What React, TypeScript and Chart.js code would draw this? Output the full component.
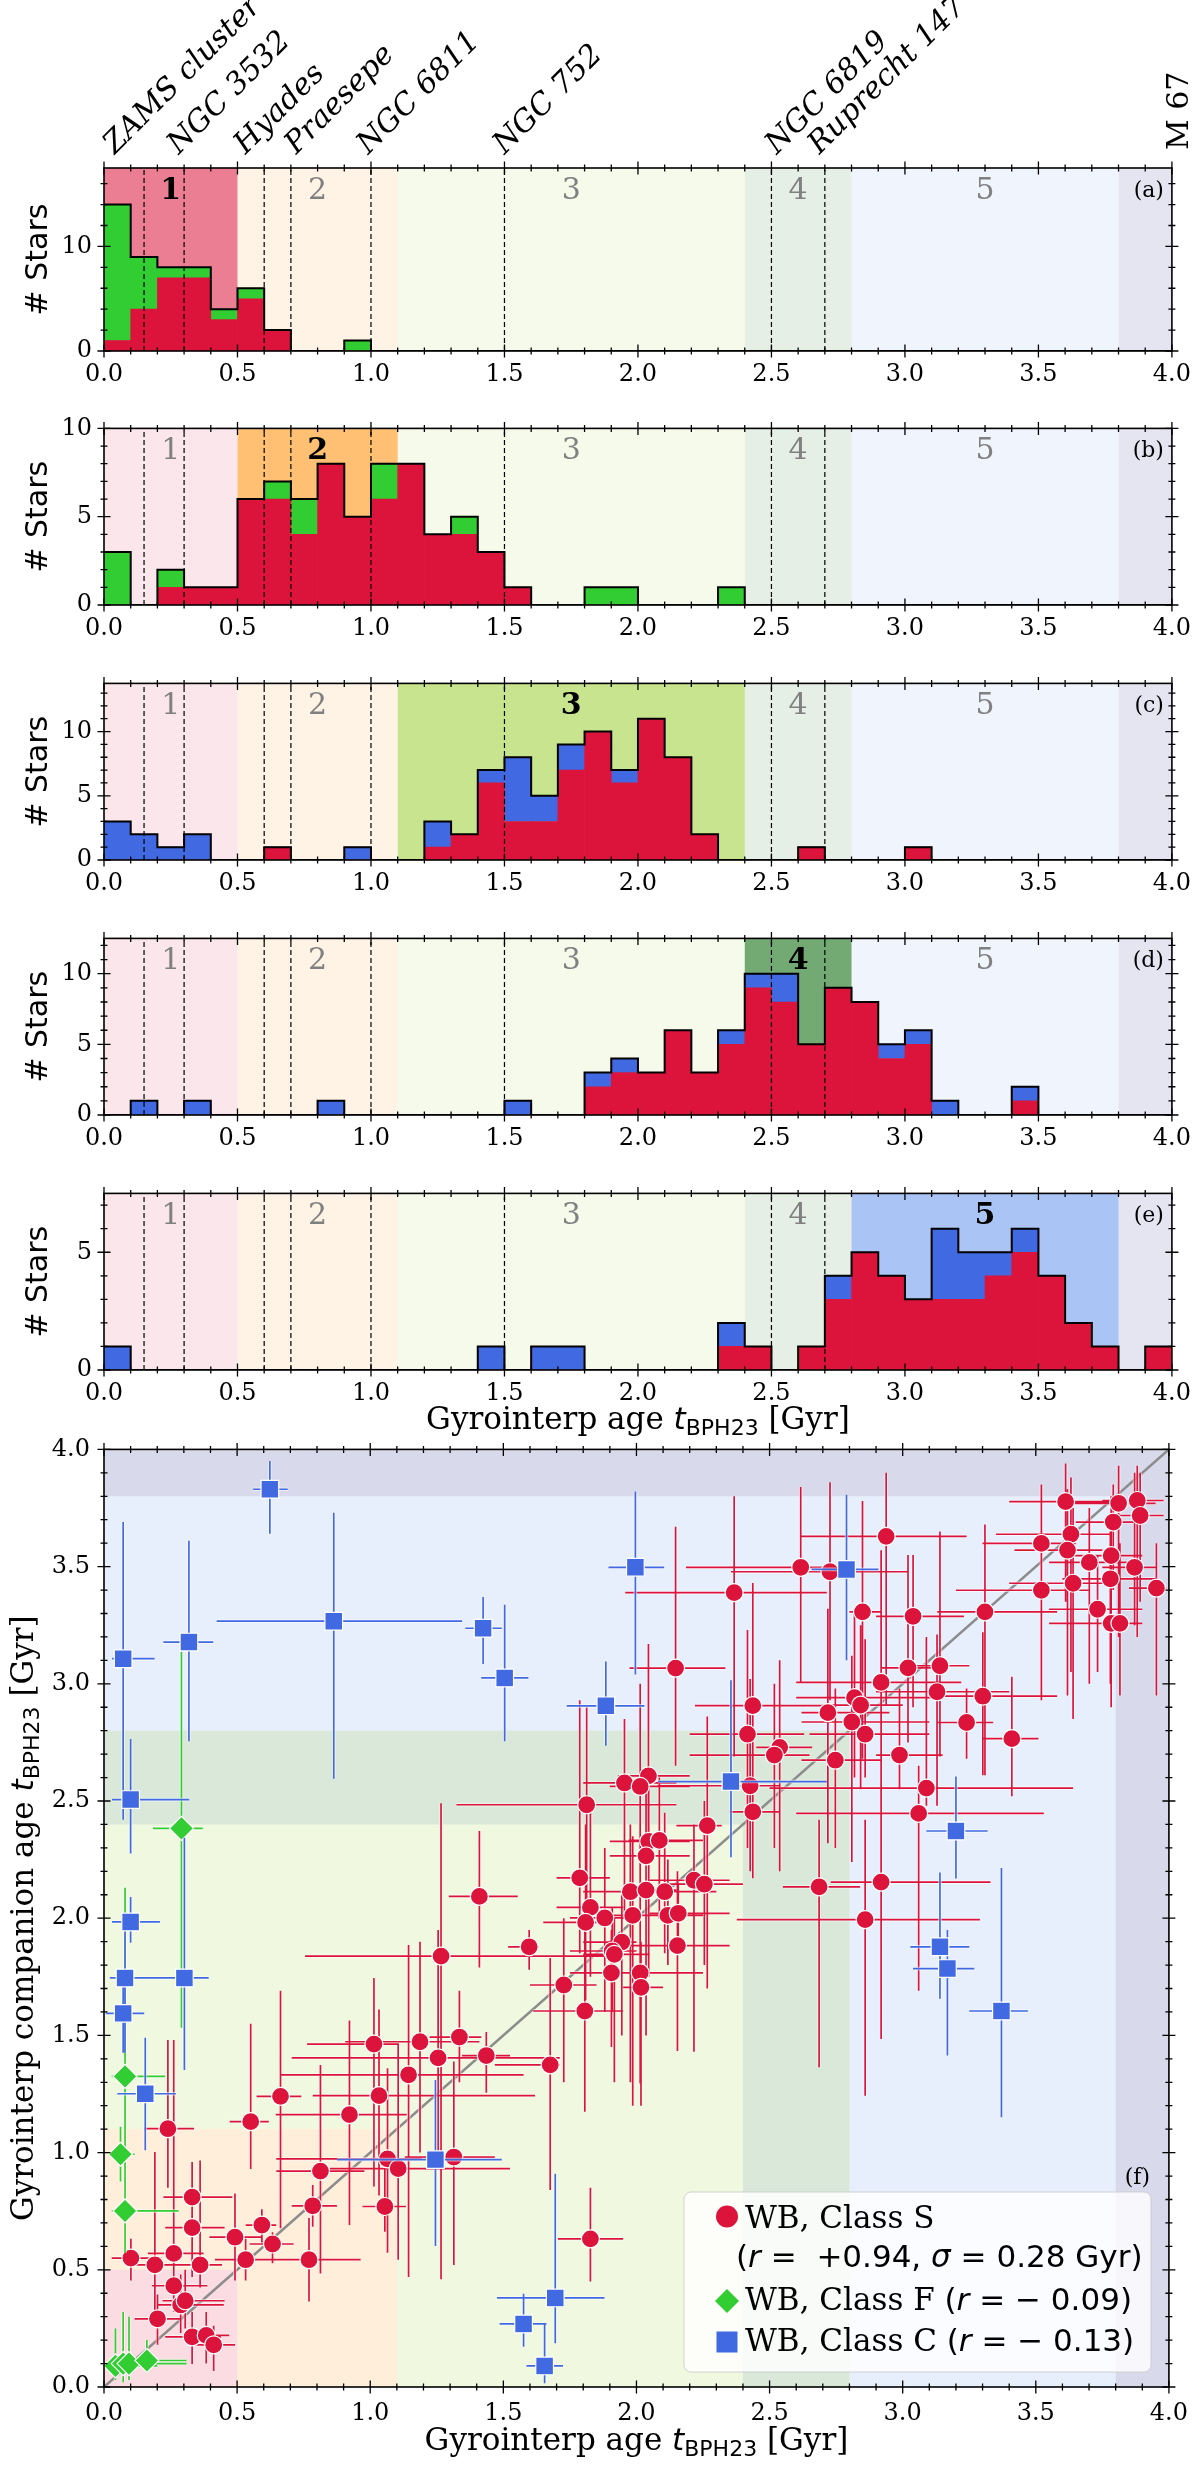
import { useEffect, useRef } from "react";
import { Chart, registerables } from "chart.js";

Chart.register(...registerables);

const SERIF = '"DejaVu Serif", serif';
const SANS = '"DejaVu Sans", sans-serif';
const CRIMSON = "#dc143c";
const LIME = "#32cd32";
const ROYAL = "#4169e1";

// histogram bins: 0.1 Gyr wide, 0 .. 4 Gyr
const binEdges = Array.from({ length: 41 }, (_, i) => Math.round(i * 10) / 100);
const binCenters = binEdges.slice(0, 40).map((e) => e + 0.05);

// age regions 1..5 plus the M 67 strip
const regionEdges = [0, 0.5, 1.1, 2.4, 2.8, 3.8, 4.0];
const regionNames = ["1", "2", "3", "4", "5"];
const regionRgb = ["220,20,60", "255,140,0", "154,205,50", "0,100,0", "100,149,237", "0,0,128"];

// benchmark clusters
const clusterNames = ["ZAMS cluster", "NGC 3532", "Hyades", "Praesepe", "NGC 6811", "NGC 752", "NGC 6819", "Ruprecht 147"];
const clusterLabelAt = [0.04, 0.28, 0.53, 0.72, 0.99, 1.5, 2.52, 2.68];
const clusterAges = [0.15, 0.3, 0.6, 0.7, 1.0, 1.5, 2.5, 2.7];

// counts per bin (class S, and class F or C stacked on top)
const histA_S = [1, 4, 7, 7, 3, 5, 2, 0, 0, 0, 0, 0, 0, 0, 0, 0, 0, 0, 0, 0, 0, 0, 0, 0, 0, 0, 0, 0, 0, 0, 0, 0, 0, 0, 0, 0, 0, 0, 0, 0];
const histA_F = [13, 5, 1, 1, 1, 1, 0, 0, 0, 1, 0, 0, 0, 0, 0, 0, 0, 0, 0, 0, 0, 0, 0, 0, 0, 0, 0, 0, 0, 0, 0, 0, 0, 0, 0, 0, 0, 0, 0, 0];
const histB_S = [0, 0, 1, 1, 1, 6, 6, 4, 8, 5, 6, 8, 4, 4, 3, 1, 0, 0, 0, 0, 0, 0, 0, 0, 0, 0, 0, 0, 0, 0, 0, 0, 0, 0, 0, 0, 0, 0, 0, 0];
const histB_F = [3, 0, 1, 0, 0, 0, 1, 2, 0, 0, 2, 0, 0, 1, 0, 0, 0, 0, 1, 1, 0, 0, 0, 1, 0, 0, 0, 0, 0, 0, 0, 0, 0, 0, 0, 0, 0, 0, 0, 0];
const histC_S = [0, 0, 0, 0, 0, 0, 1, 0, 0, 0, 0, 0, 1, 2, 6, 3, 3, 7, 10, 6, 11, 8, 2, 0, 0, 0, 1, 0, 0, 0, 1, 0, 0, 0, 0, 0, 0, 0, 0, 0];
const histC_C = [3, 2, 1, 2, 0, 0, 0, 0, 0, 1, 0, 0, 2, 0, 1, 5, 2, 2, 0, 1, 0, 0, 0, 0, 0, 0, 0, 0, 0, 0, 0, 0, 0, 0, 0, 0, 0, 0, 0, 0];
const histD_S = [0, 0, 0, 0, 0, 0, 0, 0, 0, 0, 0, 0, 0, 0, 0, 0, 0, 0, 2, 3, 3, 6, 3, 5, 9, 8, 5, 9, 8, 4, 5, 0, 0, 0, 1, 0, 0, 0, 0, 0];
const histD_C = [0, 1, 0, 1, 0, 0, 0, 0, 1, 0, 0, 0, 0, 0, 0, 1, 0, 0, 1, 1, 0, 0, 0, 1, 1, 2, 0, 0, 0, 1, 1, 1, 0, 0, 1, 0, 0, 0, 0, 0];
const histE_S = [0, 0, 0, 0, 0, 0, 0, 0, 0, 0, 0, 0, 0, 0, 0, 0, 0, 0, 0, 0, 0, 0, 0, 1, 1, 0, 1, 3, 5, 4, 3, 3, 3, 4, 5, 4, 2, 1, 0, 1];
const histE_C = [1, 0, 0, 0, 0, 0, 0, 0, 0, 0, 0, 0, 0, 0, 1, 0, 1, 1, 0, 0, 0, 0, 0, 1, 0, 0, 0, 1, 0, 0, 0, 3, 2, 1, 1, 0, 0, 0, 0, 0];

// [age, companion age, age lo, age hi, companion lo, companion hi] in Gyr
type Pt = [number, number, number, number, number, number];
const classS: Pt[] = [
  [0.24, 1.102, 0.151, 0.338, 0.85, 1.48], [0.551, 1.132, 0.472, 0.619, 0.93, 1.55],
  [0.663, 1.24, 0.573, 0.741, 0.677, 1.69], [0.331, 0.81, 0.223, 0.482, 0.617, 0.96],
  [0.331, 0.68, 0.23, 0.453, 0.469, 0.884], [0.492, 0.639, 0.396, 0.59, 0.454, 0.825],
  [0.593, 0.691, 0.532, 0.647, 0.617, 0.758], [0.633, 0.61, 0.547, 0.712, 0.528, 0.66],
  [0.532, 0.543, 0.417, 0.633, 0.454, 0.632], [0.77, 0.543, 0.568, 0.964, 0.365, 0.721],
  [0.784, 0.773, 0.705, 0.875, 0.684, 0.862], [0.813, 0.921, 0.647, 0.978, 0.484, 1.374],
  [0.922, 1.162, 0.645, 1.137, 0.691, 1.564], [1.014, 1.463, 0.763, 1.108, 0.855, 1.745],
  [1.033, 1.243, 0.784, 1.619, 0.817, 1.61], [1.065, 0.973, 0.647, 1.194, 0.573, 1.36],
  [1.105, 0.932, 0.849, 1.525, 0.543, 1.46], [1.055, 0.77, 0.971, 1.134, 0.662, 0.973],
  [1.314, 0.981, 1.13, 1.468, 0.521, 1.389], [1.144, 1.332, 0.662, 1.576, 0.469, 1.886],
  [1.187, 1.473, 0.906, 1.41, 1.0, 1.9], [1.255, 1.404, 0.705, 1.712, 0.95, 1.95],
  [1.335, 1.493, 1.223, 1.417, 1.3, 1.69], [1.436, 1.414, 1.345, 1.525, 1.255, 1.515],
  [1.676, 1.374, 1.468, 1.712, 0.84, 1.83], [1.806, 1.604, 1.612, 1.95, 1.174, 1.95],
  [1.727, 1.715, 1.6, 1.85, 1.3, 2.0], [1.266, 1.838, 0.755, 1.95, 0.46, 2.49],
  [1.597, 1.878, 1.518, 1.633, 1.78, 1.95], [1.827, 0.632, 1.705, 1.95, 0.45, 0.85],
  [0.101, 0.55, 0.029, 0.216, 0.454, 0.632], [0.191, 0.521, 0.122, 0.338, 0.32, 1.003],
  [0.262, 0.57, 0.165, 0.374, 0.38, 1.48], [0.361, 0.521, 0.295, 0.443, 0.424, 0.966],
  [0.262, 0.432, 0.18, 0.388, 0.32, 0.558], [0.288, 0.35, 0.2, 0.45, 0.23, 0.48],
  [0.305, 0.368, 0.22, 0.453, 0.25, 0.5], [0.201, 0.291, 0.115, 0.288, 0.18, 0.395],
  [0.331, 0.214, 0.23, 0.439, 0.098, 0.32], [0.384, 0.22, 0.3, 0.47, 0.1, 0.32],
  [0.412, 0.18, 0.331, 0.492, 0.068, 0.261], [1.41, 2.093, 1.295, 1.554, 1.79, 2.372],
  [1.813, 2.484, 1.324, 2.15, 2.0, 2.9], [1.787, 2.172, 1.7, 1.9, 1.85, 2.93],
  [1.827, 2.046, 1.7, 1.95, 1.75, 2.5], [1.809, 1.982, 1.65, 1.9, 1.65, 2.4],
  [3.612, 3.777, 3.4, 3.85, 3.35, 3.94], [3.811, 3.77, 3.6, 3.95, 3.2, 3.93],
  [3.881, 3.782, 3.75, 3.98, 3.2, 3.93], [3.892, 3.718, 3.78, 3.98, 3.35, 3.9],
  [3.791, 3.69, 3.65, 3.9, 3.4, 3.85], [2.938, 3.629, 2.617, 3.24, 2.91, 3.9],
  [3.632, 3.638, 3.35, 3.78, 3.05, 3.88], [3.521, 3.599, 3.3, 3.65, 3.2, 3.85],
  [3.619, 3.57, 3.42, 3.75, 2.95, 3.83], [3.701, 3.518, 3.55, 3.85, 3.0, 3.75],
  [3.783, 3.547, 3.6, 3.9, 3.2, 3.8], [3.871, 3.497, 3.75, 3.95, 3.25, 3.9],
  [2.617, 3.497, 2.186, 2.75, 3.01, 3.84], [2.727, 3.478, 2.355, 3.02, 2.93, 3.86],
  [2.367, 3.389, 1.958, 2.715, 2.69, 3.8], [3.521, 3.399, 3.2, 3.7, 2.93, 3.72],
  [3.64, 3.429, 3.4, 3.8, 2.85, 3.75], [3.78, 3.448, 3.6, 3.95, 3.0, 3.65],
  [3.953, 3.408, 3.85, 3.99, 2.95, 3.6], [2.849, 3.307, 2.8, 2.92, 2.68, 3.78],
  [3.039, 3.288, 2.9, 3.23, 2.9, 3.55], [3.309, 3.307, 3.13, 3.58, 2.61, 3.68],
  [3.732, 3.318, 3.55, 3.9, 3.05, 3.55], [3.783, 3.258, 3.55, 3.85, 2.9, 3.65],
  [3.816, 3.258, 3.65, 3.9, 2.95, 3.6], [2.147, 3.067, 1.974, 2.334, 2.65, 3.67],
  [3.02, 3.068, 2.92, 3.15, 2.75, 3.55], [3.14, 3.077, 3.05, 3.25, 2.69, 3.65],
  [2.919, 3.006, 2.6, 3.22, 2.19, 3.57], [3.129, 2.966, 2.9, 3.4, 2.48, 3.21],
  [3.301, 2.947, 3.13, 3.58, 2.61, 3.22], [2.437, 2.907, 2.22, 2.7, 2.17, 3.43],
  [2.819, 2.941, 2.6, 3.12, 2.6, 3.3], [2.842, 2.909, 2.7, 3.0, 2.55, 3.25],
  [2.719, 2.877, 2.62, 2.95, 2.32, 3.32], [2.809, 2.837, 2.62, 3.1, 2.24, 3.12],
  [3.24, 2.835, 3.13, 3.34, 2.68, 2.98], [2.417, 2.785, 2.2, 2.63, 2.3, 3.23],
  [2.859, 2.785, 2.65, 3.1, 2.6, 3.19], [3.41, 2.766, 3.3, 3.51, 2.52, 3.03],
  [2.538, 2.729, 2.45, 2.66, 2.2, 3.1], [2.518, 2.696, 2.2, 2.65, 2.3, 3.0],
  [2.747, 2.674, 2.62, 2.92, 2.3, 2.98], [2.988, 2.696, 2.9, 3.15, 2.55, 2.98],
  [2.045, 2.607, 1.93, 2.2, 2.33, 3.17], [1.955, 2.577, 1.8, 2.15, 2.0, 2.85],
  [2.014, 2.562, 1.9, 2.2, 1.8, 3.0], [2.427, 2.565, 2.08, 2.54, 2.2, 3.02],
  [3.089, 2.555, 2.5, 3.64, 2.48, 3.2], [2.437, 2.454, 2.35, 2.54, 2.2, 2.71],
  [3.06, 2.447, 2.6, 3.53, 1.69, 2.65], [2.266, 2.395, 2.15, 2.32, 1.7, 2.86],
  [2.046, 2.328, 1.9, 2.2, 1.75, 2.55], [2.086, 2.332, 1.97, 2.25, 2.0, 2.6],
  [2.036, 2.266, 1.9, 2.2, 1.5, 2.6], [2.216, 2.162, 2.05, 2.35, 1.43, 2.4],
  [2.255, 2.145, 2.1, 2.4, 1.8, 2.5], [1.977, 2.113, 1.8, 2.1, 1.3, 2.4],
  [2.036, 2.12, 1.95, 2.15, 1.55, 2.6], [2.106, 2.113, 2.0, 2.3, 1.85, 2.45],
  [2.686, 2.134, 2.55, 2.84, 1.364, 2.42], [2.919, 2.154, 2.73, 3.33, 1.485, 2.44],
  [1.881, 2.001, 1.75, 1.98, 1.6, 2.3], [1.986, 2.012, 1.85, 2.2, 1.2, 2.35],
  [2.118, 2.012, 2.0, 2.25, 1.8, 2.25], [2.157, 2.021, 2.05, 2.35, 1.85, 2.15],
  [2.859, 1.994, 2.377, 3.29, 1.243, 2.42], [1.945, 1.898, 1.8, 2.0, 1.5, 2.1],
  [1.909, 1.86, 1.75, 2.0, 1.6, 2.05], [2.154, 1.883, 1.95, 2.35, 1.433, 2.2],
  [1.917, 1.846, 1.8, 2.05, 1.3, 2.0], [1.906, 1.767, 1.75, 2.05, 1.45, 1.95],
  [2.014, 1.767, 1.9, 2.25, 1.295, 2.05], [2.017, 1.705, 1.95, 2.1, 1.2, 1.9],
];
const classF: Pt[] = [
  [0.291, 2.383, 0.184, 0.371, 1.533, 3.136], [0.079, 1.325, 0.029, 0.23, 0.9, 2.13],
  [0.062, 0.993, 0.03, 0.115, 0.877, 1.11], [0.079, 0.751, 0.029, 0.28, 0.573, 1.6],
  [0.043, 0.09, 0.02, 0.2, 0.03, 0.25], [0.072, 0.1, 0.03, 0.31, 0.02, 0.32],
  [0.094, 0.1, 0.04, 0.25, 0.03, 0.3], [0.161, 0.113, 0.1, 0.31, 0.06, 0.2],
];
const classC: Pt[] = [
  [0.072, 3.107, 0.03, 0.19, 2.42, 3.69], [0.623, 3.83, 0.56, 0.69, 3.64, 3.95],
  [0.319, 3.178, 0.223, 0.41, 2.755, 3.61], [0.863, 3.267, 0.423, 1.345, 2.595, 3.73],
  [1.424, 3.237, 1.357, 1.494, 3.085, 3.37], [1.505, 3.025, 1.417, 1.594, 2.755, 3.337],
  [1.885, 2.906, 1.738, 2.03, 2.736, 3.095], [0.1, 2.506, 0.03, 0.32, 2.276, 2.765],
  [0.1, 1.984, 0.03, 0.21, 1.895, 2.09], [1.996, 3.497, 1.895, 2.104, 3.04, 3.82],
  [2.789, 3.488, 2.658, 2.909, 3.1, 3.807], [2.355, 2.583, 2.082, 2.715, 2.26, 3.015],
  [3.2, 2.372, 3.089, 3.319, 2.169, 2.605], [3.14, 1.878, 3.029, 3.25, 1.656, 2.195],
  [3.168, 1.785, 3.039, 3.269, 1.414, 1.95], [3.371, 1.604, 3.25, 3.47, 1.151, 2.214],
  [0.302, 1.745, 0.216, 0.393, 1.352, 2.343], [0.079, 1.745, 0.022, 0.216, 1.426, 1.97],
  [0.072, 1.594, 0.007, 0.151, 1.426, 1.75], [0.155, 1.251, 0.05, 0.27, 1.01, 1.49],
  [1.245, 0.97, 0.875, 1.494, 0.602, 1.31], [1.576, 0.269, 1.486, 1.662, 0.172, 0.398],
  [1.695, 0.38, 1.476, 1.88, 0.187, 0.91], [1.655, 0.09, 1.587, 1.724, 0.016, 0.269],
];

type Panel = {
  tag: string; s: number[]; other: number[]; otherColor: string;
  yMax: number; yMajor: number; yMinor: number; highlight: number; top: number;
};
const panels: Panel[] = [
  { tag: "(a)", s: histA_S, other: histA_F, otherColor: LIME, yMax: 17.5, yMajor: 10, yMinor: 2, highlight: 0, top: 168 },
  { tag: "(b)", s: histB_S, other: histB_F, otherColor: LIME, yMax: 10, yMajor: 5, yMinor: 1, highlight: 1, top: 422 },
  { tag: "(c)", s: histC_S, other: histC_C, otherColor: ROYAL, yMax: 13.75, yMajor: 5, yMinor: 1, highlight: 2, top: 677 },
  { tag: "(d)", s: histD_S, other: histD_C, otherColor: ROYAL, yMax: 12.5, yMajor: 5, yMinor: 1, highlight: 3, top: 932 },
  { tag: "(e)", s: histE_S, other: histE_C, otherColor: ROYAL, yMax: 7.5, yMajor: 5, yMinor: 1, highlight: 4, top: 1187 },
];
const PANEL_H = 183;

type Seg = { t: string; f: string; dy?: number };
function drawSegs(ctx: CanvasRenderingContext2D, segs: Seg[], x: number, y: number, align: "left" | "center") {
  ctx.textAlign = "left";
  ctx.textBaseline = "alphabetic";
  let w = 0;
  for (const s of segs) { ctx.font = s.f; w += ctx.measureText(s.t).width; }
  let cx = align === "center" ? x - w / 2 : x;
  for (const s of segs) {
    ctx.font = s.f;
    ctx.fillText(s.t, cx, y + (s.dy || 0));
    cx += ctx.measureText(s.t).width;
  }
}

const ageLabel = (): Seg[] => [
  { t: "Gyrointerp age ", f: `31px ${SERIF}` },
  { t: "t", f: `oblique 31px ${SANS}` },
  { t: "BPH23", f: `22px ${SANS}`, dy: 6 },
  { t: " [Gyr]", f: `31px ${SERIF}` },
];

function drawFrame(chart: any, xMinor: number, xMajorEvery: number, yMax: number, yMinor: number, yMajor: number) {
  const { ctx, chartArea: a, scales } = chart;
  const xs = scales.x, ys = scales.y;
  ctx.save();
  ctx.strokeStyle = "#000";
  ctx.lineWidth = 1.3;
  ctx.beginPath();
  for (let i = 0; i * xMinor <= 4 + 1e-9; i++) {
    const px = xs.getPixelForValue(i * xMinor);
    const len = i % xMajorEvery === 0 ? 6.5 : 3.5;
    ctx.moveTo(px, a.bottom - len); ctx.lineTo(px, a.bottom + len);
    ctx.moveTo(px, a.top - len); ctx.lineTo(px, a.top + len);
  }
  for (let i = 0; i * yMinor <= yMax + 1e-9; i++) {
    const v = i * yMinor;
    const py = ys.getPixelForValue(v);
    const major = Math.abs(v / yMajor - Math.round(v / yMajor)) < 1e-6;
    const len = major ? 6.5 : 3.5;
    ctx.moveTo(a.left - len, py); ctx.lineTo(a.left + len, py);
    ctx.moveTo(a.right - len, py); ctx.lineTo(a.right + len, py);
  }
  ctx.stroke();
  ctx.lineWidth = 1.6;
  ctx.strokeRect(a.left, a.top, a.right - a.left, a.bottom - a.top);
  ctx.restore();
}

function HistPanel({ p, first, last }: { p: Panel; first: boolean; last: boolean }) {
  const ref = useRef<HTMLCanvasElement>(null);
  const padTop = first ? p.top : 20;
  const axisH = last ? 80 : 40;
  const height = padTop + PANEL_H + axisH;

  useEffect(() => {
    if (!ref.current) return;
    const totals = p.s.map((v, i) => v + p.other[i]);

    const decor = {
      id: "histDecor",
      beforeDatasetsDraw(chart: any) {
        const { ctx, chartArea: a, scales: { x } } = chart;
        ctx.save();
        ctx.fillStyle = "#fff";
        ctx.fillRect(a.left, a.top, a.right - a.left, a.bottom - a.top);
        for (let r = 0; r < 6; r++) {
          const x0 = x.getPixelForValue(regionEdges[r]);
          const x1 = x.getPixelForValue(regionEdges[r + 1]);
          const alpha = r === p.highlight ? 0.55 : 0.1;
          ctx.fillStyle = `rgba(${regionRgb[r]},${alpha})`;
          ctx.fillRect(x0, a.top, x1 - x0, a.bottom - a.top);
        }
        ctx.restore();
      },
      afterDatasetsDraw(chart: any) {
        const { ctx, chartArea: a, scales: { x } } = chart;
        ctx.save();
        ctx.strokeStyle = "#000";
        ctx.lineWidth = 1.2;
        ctx.setLineDash([5, 3]);
        ctx.beginPath();
        for (const age of clusterAges) {
          const px = x.getPixelForValue(age);
          ctx.moveTo(px, a.bottom); ctx.lineTo(px, a.top);
        }
        ctx.stroke();
        ctx.setLineDash([]);
        ctx.textAlign = "center";
        ctx.textBaseline = "alphabetic";
        for (let r = 0; r < 5; r++) {
          const cx = x.getPixelForValue((regionEdges[r] + regionEdges[r + 1]) / 2);
          const hi = r === p.highlight;
          ctx.font = `${hi ? "bold " : ""}30px ${SERIF}`;
          ctx.fillStyle = hi ? "#000" : "#808080";
          ctx.fillText(regionNames[r], cx, a.top + 31);
        }
        ctx.font = `22px ${SERIF}`;
        ctx.fillStyle = "#000";
        ctx.textAlign = "right";
        ctx.fillText(p.tag, a.right - 8, a.top + 29);
        ctx.restore();
      },
      afterDraw(chart: any) {
        const { ctx, chartArea: a, scales: { x } } = chart;
        drawFrame(chart, 0.1, 5, p.yMax, p.yMinor, p.yMajor);
        ctx.save();
        ctx.fillStyle = "#000";
        ctx.font = `30px ${SANS}`;
        ctx.textAlign = "center";
        ctx.textBaseline = "alphabetic";
        ctx.translate(47, (a.top + a.bottom) / 2);
        ctx.rotate(-Math.PI / 2);
        ctx.fillText("# Stars", 0, 0);
        ctx.restore();
        if (first) {
          ctx.save();
          ctx.fillStyle = "#000";
          ctx.font = `italic 30px ${SERIF}`;
          ctx.textAlign = "left";
          ctx.textBaseline = "alphabetic";
          clusterNames.forEach((name, i) => {
            ctx.save();
            ctx.translate(x.getPixelForValue(clusterLabelAt[i]), a.top - 13);
            ctx.rotate(-Math.PI / 4);
            ctx.fillText(name, 0, 0);
            ctx.restore();
          });
          ctx.save();
          ctx.translate(x.getPixelForValue(4.0) + 16, a.top - 18);
          ctx.rotate(-Math.PI / 2);
          ctx.font = `30px ${SERIF}`;
          ctx.fillText("M 67", 0, 0);
          ctx.restore();
          ctx.restore();
        }
        if (last) {
          ctx.save();
          ctx.fillStyle = "#000";
          drawSegs(ctx, ageLabel(), (a.left + a.right) / 2, a.bottom + 59, "center");
          ctx.restore();
        }
      },
    };

    const chart = new Chart(ref.current, {
      type: "bar",
      data: {
        datasets: [
          {
            type: "bar",
            data: binCenters.map((c, i) => ({ x: c, y: p.s[i] })),
            backgroundColor: CRIMSON,
            borderWidth: 0,
            barPercentage: 1,
            categoryPercentage: 1,
            order: 2,
          },
          {
            type: "bar",
            data: binCenters.map((c, i) => ({ x: c, y: p.other[i] })),
            backgroundColor: p.otherColor,
            borderWidth: 0,
            barPercentage: 1,
            categoryPercentage: 1,
            order: 2,
          },
          {
            type: "line",
            data: binEdges.map((e, i) => ({ x: e, y: totals[Math.min(i, 39)] })),
            stepped: "before",
            borderColor: "#000",
            borderWidth: 2,
            pointRadius: 0,
            fill: false,
            order: 0,
          },
        ] as any,
      },
      options: {
        animation: false,
        responsive: true,
        maintainAspectRatio: false,
        events: [],
        layout: { padding: { top: padTop, right: 27, left: 0, bottom: 0 } },
        plugins: { legend: { display: false }, tooltip: { enabled: false } },
        scales: {
          x: {
            type: "linear",
            min: 0,
            max: 4,
            offset: false,
            stacked: true,
            grid: { display: false, drawTicks: false, offset: false },
            border: { display: false },
            ticks: {
              stepSize: 0.5,
              padding: 9,
              autoSkip: false,
              maxRotation: 0,
              color: "#000",
              font: { family: SERIF, size: 24 },
              callback: (v: any) => Number(v).toFixed(1),
            },
            afterFit: (s: any) => { s.height = axisH; },
          },
          y: {
            type: "linear",
            min: 0,
            max: p.yMax,
            stacked: true,
            grid: { display: false, drawTicks: false },
            border: { display: false },
            ticks: {
              stepSize: p.yMajor,
              includeBounds: false,
              padding: 12,
              color: "#000",
              font: { family: SERIF, size: 24 },
              callback: (v: any) => (Number(v) % p.yMajor === 0 ? String(v) : ""),
            },
            afterFit: (s: any) => { s.width = 104; },
          },
        },
      } as any,
      plugins: [decor],
    });

    return () => {
      chart.destroy();
    };
  }, []);

  return (
    <div style={{ position: "absolute", left: 0, top: p.top - padTop, width: 1200, height }}>
      <canvas ref={ref} />
    </div>
  );
}

const SC_TOP = 1441;
const SC_PAD = 20;

function ScatterPanel() {
  const ref = useRef<HTMLCanvasElement>(null);

  useEffect(() => {
    if (!ref.current) return;
    const offY = SC_TOP - SC_PAD;

    const decor = {
      id: "scatterDecor",
      beforeDatasetsDraw(chart: any) {
        const { ctx, chartArea: a, scales: { x, y } } = chart;
        ctx.save();
        ctx.fillStyle = "#fff";
        ctx.fillRect(a.left, a.top, a.right - a.left, a.bottom - a.top);
        for (let r = 5; r >= 0; r--) {
          const edge = regionEdges[r + 1];
          const x1 = x.getPixelForValue(edge);
          const y1 = y.getPixelForValue(edge);
          ctx.fillStyle = "#fff";
          ctx.fillRect(a.left, y1, x1 - a.left, a.bottom - y1);
          ctx.fillStyle = `rgba(${regionRgb[r]},0.15)`;
          ctx.fillRect(a.left, y1, x1 - a.left, a.bottom - y1);
        }
        ctx.restore();
      },
      beforeDatasetDraw(chart: any, args: any) {
        const ds: any = chart.data.datasets[args.index];
        if (!ds.errorBars) return;
        const { ctx, chartArea: a, scales: { x, y } } = chart;
        ctx.save();
        ctx.beginPath();
        ctx.rect(a.left, a.top, a.right - a.left, a.bottom - a.top);
        ctx.clip();
        const path = () => {
          ctx.beginPath();
          for (const [px, py, xl, xh, yl, yh] of ds.errorBars as Pt[]) {
            const X = x.getPixelForValue(px), Y = y.getPixelForValue(py);
            ctx.moveTo(x.getPixelForValue(xl), Y); ctx.lineTo(x.getPixelForValue(xh), Y);
            ctx.moveTo(X, y.getPixelForValue(yl)); ctx.lineTo(X, y.getPixelForValue(yh));
          }
        };
        path();
        ctx.strokeStyle = "rgba(255,255,255,0.55)";
        ctx.lineWidth = 3.6;
        ctx.stroke();
        path();
        ctx.strokeStyle = ds.errColor;
        ctx.lineWidth = 1.7;
        ctx.stroke();
        ctx.restore();
      },
      afterDraw(chart: any) {
        const { ctx, chartArea: a } = chart;
        drawFrame(chart, 0.1, 5, 4, 0.1, 0.5);
        ctx.save();
        ctx.fillStyle = "#000";
        drawSegs(ctx, ageLabel(), (a.left + a.right) / 2, 2450 - offY, "center");
        ctx.save();
        ctx.translate(33, (a.top + a.bottom) / 2);
        ctx.rotate(-Math.PI / 2);
        drawSegs(ctx, [
          { t: "Gyrointerp companion age ", f: `31px ${SERIF}` },
          { t: "t", f: `oblique 31px ${SANS}` },
          { t: "BPH23", f: `22px ${SANS}`, dy: 6 },
          { t: " [Gyr]", f: `31px ${SERIF}` },
        ], 0, 0, "center");
        ctx.restore();

        ctx.font = `22px ${SERIF}`;
        ctx.textAlign = "right";
        ctx.fillText("(f)", 1150, 2184 - offY);

        // legend
        const bx = 684, by = 2192 - offY, bw = 467, bh = 180;
        ctx.beginPath();
        ctx.roundRect(bx, by, bw, bh, 7);
        ctx.fillStyle = "rgba(255,255,255,0.82)";
        ctx.fill();
        ctx.strokeStyle = "rgba(200,200,200,0.8)";
        ctx.lineWidth = 1;
        ctx.stroke();

        const mx = 727;
        ctx.fillStyle = CRIMSON;
        ctx.beginPath();
        ctx.arc(mx, 2216.5 - offY, 11, 0, Math.PI * 2);
        ctx.fill();
        ctx.fillStyle = LIME;
        ctx.beginPath();
        const dy = 2301 - offY;
        ctx.moveTo(mx, dy - 12); ctx.lineTo(mx + 12, dy); ctx.lineTo(mx, dy + 12); ctx.lineTo(mx - 12, dy);
        ctx.closePath();
        ctx.fill();
        ctx.fillStyle = ROYAL;
        ctx.fillRect(mx - 10.5, 2342 - offY - 10.5, 21, 21);

        ctx.fillStyle = "#000";
        drawSegs(ctx, [{ t: "WB, Class S", f: `31px ${SERIF}` }], 745, 2228 - offY, "left");
        drawSegs(ctx, [
          { t: "(", f: `31px ${SANS}` },
          { t: "r", f: `oblique 31px ${SANS}` },
          { t: " =  +0.94, ", f: `31px ${SANS}` },
          { t: "σ", f: `oblique 31px ${SANS}` },
          { t: " = 0.28 Gyr)", f: `31px ${SANS}` },
        ], 736, 2267 - offY, "left");
        drawSegs(ctx, [
          { t: "WB, Class F ", f: `31px ${SERIF}` },
          { t: "(", f: `31px ${SANS}` },
          { t: "r", f: `oblique 31px ${SANS}` },
          { t: " = − 0.09)", f: `31px ${SANS}` },
        ], 745, 2310 - offY, "left");
        drawSegs(ctx, [
          { t: "WB, Class C ", f: `31px ${SERIF}` },
          { t: "(", f: `31px ${SANS}` },
          { t: "r", f: `oblique 31px ${SANS}` },
          { t: " = − 0.13)", f: `31px ${SANS}` },
        ], 745, 2351 - offY, "left");
        ctx.restore();
      },
    };

    const toXY = (arr: Pt[]) => arr.map((p) => ({ x: p[0], y: p[1] }));

    const chart = new Chart(ref.current, {
      type: "scatter",
      data: {
        datasets: [
          {
            type: "line",
            data: [{ x: 0, y: 0 }, { x: 4, y: 4 }],
            borderColor: "#8c8c8c",
            borderWidth: 2.5,
            pointRadius: 0,
            showLine: true,
            fill: false,
            order: 10,
          },
          {
            data: toXY(classS),
            errorBars: classS,
            errColor: CRIMSON,
            pointStyle: "circle",
            pointRadius: 9,
            pointBackgroundColor: CRIMSON,
            pointBorderColor: "#fff",
            pointBorderWidth: 1.2,
            order: 3,
          },
          {
            data: toXY(classF),
            errorBars: classF,
            errColor: LIME,
            pointStyle: "rectRot",
            pointRadius: 12,
            pointBackgroundColor: LIME,
            pointBorderColor: "#fff",
            pointBorderWidth: 1.2,
            order: 2,
          },
          {
            data: toXY(classC),
            errorBars: classC,
            errColor: ROYAL,
            pointStyle: "rect",
            pointRadius: 12.5,
            pointBackgroundColor: ROYAL,
            pointBorderColor: "#fff",
            pointBorderWidth: 1.2,
            order: 1,
          },
        ] as any,
      },
      options: {
        animation: false,
        responsive: true,
        maintainAspectRatio: false,
        events: [],
        layout: { padding: { top: SC_PAD, right: 27, left: 0, bottom: 0 } },
        plugins: { legend: { display: false }, tooltip: { enabled: false } },
        scales: {
          x: {
            type: "linear",
            min: 0,
            max: 4,
            grid: { display: false, drawTicks: false },
            border: { display: false },
            ticks: {
              stepSize: 0.5,
              padding: 12,
              autoSkip: false,
              maxRotation: 0,
              color: "#000",
              font: { family: SERIF, size: 24 },
              callback: (v: any) => Number(v).toFixed(1),
            },
            afterFit: (s: any) => { s.height = 2476 - 2387; },
          },
          y: {
            type: "linear",
            min: 0,
            max: 4,
            grid: { display: false, drawTicks: false },
            border: { display: false },
            ticks: {
              stepSize: 0.5,
              padding: 14,
              color: "#000",
              font: { family: SERIF, size: 24 },
              callback: (v: any) => Number(v).toFixed(1),
            },
            afterFit: (s: any) => { s.width = 104; },
          },
        },
      } as any,
      plugins: [decor],
    });

    return () => {
      chart.destroy();
    };
  }, []);

  return (
    <div style={{ position: "absolute", left: 0, top: SC_TOP - SC_PAD, width: 1200, height: 2476 - (SC_TOP - SC_PAD) }}>
      <canvas ref={ref} />
    </div>
  );
}

export default function App() {
  return (
    <div style={{ position: "absolute", left: 0, top: 0, width: 1200, height: 2476, background: "#fff", overflow: "hidden" }}>
      {panels.map((p, i) => (
        <HistPanel key={p.tag} p={p} first={i === 0} last={i === panels.length - 1} />
      ))}
      <ScatterPanel />
    </div>
  );
}
